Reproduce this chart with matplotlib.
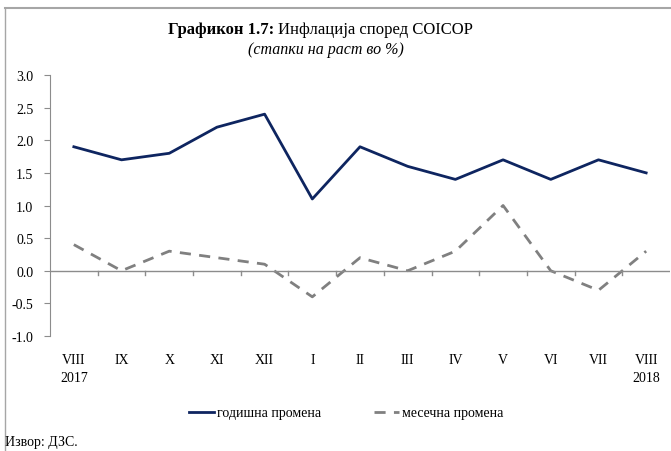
import numpy as np
import matplotlib.pyplot as plt
from matplotlib.lines import Line2D

plt.rcParams['font.family'] = ['Liberation Serif', 'DejaVu Serif']

months = ['VIII', 'IX', 'X', 'XI', 'XII', 'I', 'II', 'III', 'IV', 'V', 'VI', 'VII', 'VIII']
years = {0: '2017', 12: '2018'}
annual = [1.9, 1.7, 1.8, 2.2, 2.4, 1.1, 1.9, 1.6, 1.4, 1.7, 1.4, 1.7, 1.5]
monthly = [0.4, 0.0, 0.3, 0.2, 0.1, -0.4, 0.2, 0.0, 0.3, 1.0, 0.0, -0.3, 0.3]

navy = '#0e2560'
grey = '#808080'
axis_col = '#8c8c8c'

fig = plt.figure(figsize=(6.71, 4.52), dpi=100)
ax = fig.add_axes([50 / 671, 1 - 337 / 452, 620 / 671, 261 / 452])

x = np.arange(len(months))
ax.plot(x, annual, color=navy, lw=2.0)
ax.plot(x, monthly, color=grey, lw=2.0, dashes=(4, 3))

ax.set_xlim(-0.5, len(months) - 0.5)
ax.set_ylim(-1.0, 3.0)
yt = np.arange(-1.0, 3.01, 0.5)
ax.set_yticks(yt)
ax.set_yticklabels([f'{v:.1f}' for v in yt])

for s in ['top', 'right', 'bottom']:
    ax.spines[s].set_visible(False)
ax.spines['left'].set_color(axis_col)
ax.axhline(0, color=axis_col, lw=1.0)
ax.tick_params(axis='y', length=4, color=axis_col, labelsize=10, pad=8)

# tick marks on the zero line between categories
ax.set_xticks([])
for b in np.arange(0.5, len(months) - 0.5, 1.0):
    ax.plot([b, b], [0, -0.07], color=axis_col, lw=1.0, clip_on=False)

# category labels below the plot
for i, m in enumerate(months):
    ax.annotate(m, (i, -1.0), xytext=(0, -17), textcoords='offset pixels',
                ha='center', va='top', fontsize=10)
for i, yr in years.items():
    ax.annotate(yr, (i, -1.0), xytext=(0, -35), textcoords='offset pixels',
                ha='center', va='top', fontsize=10)

# title
fig.text(278 / 671, 1 - 30 / 452, 'Графикон 1.7: ', ha='right', va='center',
         fontsize=12, fontweight='bold')
fig.text(278 / 671, 1 - 30 / 452, 'Инфлација според COICOP', ha='left', va='center',
         fontsize=12)
fig.text(326 / 671, 1 - 50 / 452, '(стапки на раст во %)', ha='center', va='center',
         fontsize=11.5, style='italic')

# legend
handles = [Line2D([], [], color=navy, lw=2.0),
           Line2D([], [], color=grey, lw=2.0, dashes=(4, 3))]
fig.legend(handles, ['годишна промена', 'месечна промена'], loc='center',
           bbox_to_anchor=(346 / 671, 1 - 414 / 452), ncol=2, frameon=False,
           fontsize=10, handlelength=1.8, handletextpad=0.2, columnspacing=3.8)

fig.text(5 / 671, 1 - 443 / 452, 'Извор: ДЗС.', ha='left', va='center', fontsize=10)

# frame lines
fig.add_artist(Line2D([5 / 671, 1], [1 - 9 / 452, 1 - 9 / 452], color='#a6a6a6', lw=1.5,
                      transform=fig.transFigure))
fig.add_artist(Line2D([5 / 671, 5 / 671], [1 - 9 / 452, 0], color='#a6a6a6', lw=1.0,
                      transform=fig.transFigure))

fig.savefig('out.png', dpi=100)
